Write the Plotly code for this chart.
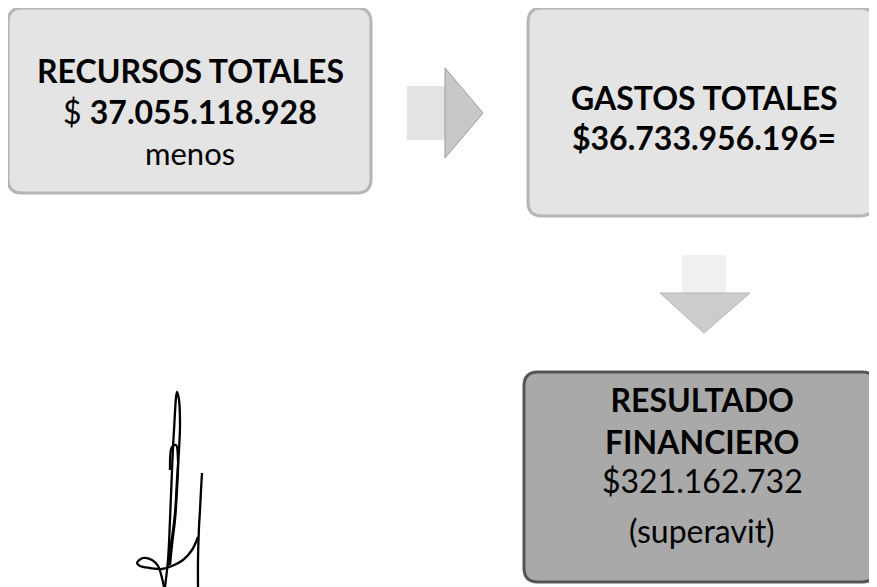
import plotly.graph_objects as go

# textos del cuadro
titulos = ["RECURSOS TOTALES", "GASTOS TOTALES", "RESULTADO<br>FINANCIERO"]
montos = ["37.055.118.928", "36.733.956.196", "321.162.732"]
notas = ["menos", "=", "(superavit)"]

# trazo de la firma (px de la imagen)
firma_a_x = [165, 168, 170, 172, 174, 177, 179, 180, 179, 177, 175, 171, 168]
firma_a_y = [587, 560, 520, 470, 430, 392, 400, 425, 450, 480, 513, 545, 567]
firma_b_x = [170, 172, 176, 178, 177, 175, 172, 170]
firma_b_y = [470, 447, 445, 460, 490, 520, 545, 565]
firma_c_x = [202, 201, 200, 199, 198, 198]
firma_c_y = [473, 490, 510, 527, 560, 587]
firma_d_x = [198, 192, 183, 172, 162, 150, 140, 137, 143, 152, 158, 162, 164]
firma_d_y = [537, 550, 560, 566, 569, 568, 566, 563, 558, 560, 566, 578, 587]

W, H = 877, 587
OFF = 8  # margen del body de la pagina


def caja(x0, y0, x1, y1, r=14):
    return (f"M {x0 + r},{y0} L {x1 - r},{y0} Q {x1},{y0} {x1},{y0 + r} "
            f"L {x1},{y1 - r} Q {x1},{y1} {x1 - r},{y1} L {x0 + r},{y1} "
            f"Q {x0},{y1} {x0},{y1 - r} L {x0},{y0 + r} Q {x0},{y0} {x0 + r},{y0} Z")


fig = go.Figure()

for fx, fy in [(firma_a_x, firma_a_y), (firma_b_x, firma_b_y),
               (firma_c_x, firma_c_y), (firma_d_x, firma_d_y)]:
    fig.add_trace(go.Scatter(x=fx, y=fy, mode="lines", line=dict(color="black", width=2.3, shape="spline"),
                             hoverinfo="skip", showlegend=False))

shapes = [
    dict(type="path", path=caja(8, 8, 371, 193), fillcolor="#e4e4e4",
         line=dict(color="#b5b5b5", width=3)),
    dict(type="path", path=caja(528, 8, 874, 216), fillcolor="#e4e4e4",
         line=dict(color="#b5b5b5", width=3)),
    dict(type="path", path=caja(524, 372, 876, 582), fillcolor="#a9a9a9",
         line=dict(color="#555555", width=3)),
    # flecha derecha
    dict(type="path", path="M 407,86 L 445,86 L 445,140 L 407,140 Z",
         fillcolor="#e3e3e3", line=dict(width=0)),
    dict(type="path", path="M 445,68 L 483,113 L 445,158 Z",
         fillcolor="#c8c8c8", line=dict(color="#9a9a9a", width=1)),
    # flecha abajo
    dict(type="path", path="M 682,255 L 726,255 L 726,293 L 682,293 Z",
         fillcolor="#f0f0f0", line=dict(width=0)),
    dict(type="path", path="M 660,293 L 750,293 L 704,333 Z",
         fillcolor="#cccccc", line=dict(color="#b5b5b5", width=1)),
]

fuente = "Lato"
anot = [
    dict(x=190, y=70, text=f"<b>{titulos[0]}</b>", size=32),
    dict(x=190, y=111, text=f"$ <b>{montos[0]}</b>", size=32),
    dict(x=190, y=153, text=notas[0], size=31),
    dict(x=704, y=97, text=f"<b>{titulos[1]}</b>", size=32),
    dict(x=704, y=137, text=f"<b>${montos[1]}{notas[1]}</b>", size=32),
    dict(x=702, y=420, text=f"<b>{titulos[2]}</b>", size=32),
    dict(x=702, y=480, text=f"${montos[2]}", size=32),
    dict(x=702, y=530, text=notas[2], size=32),
]

fig.update_layout(
    width=W - OFF, height=H - OFF,
    margin=dict(l=0, r=0, t=0, b=0),
    paper_bgcolor="white", plot_bgcolor="white",
    xaxis=dict(range=[OFF, W], visible=False, fixedrange=True),
    yaxis=dict(range=[H, OFF], visible=False, fixedrange=True),
    shapes=shapes,
    annotations=[dict(x=a["x"], y=a["y"], xref="x", yref="y", text=a["text"], showarrow=False,
                      font=dict(family=fuente, size=a["size"], color="black"), align="center")
                 for a in anot],
)

fig.write_html("out.html")
